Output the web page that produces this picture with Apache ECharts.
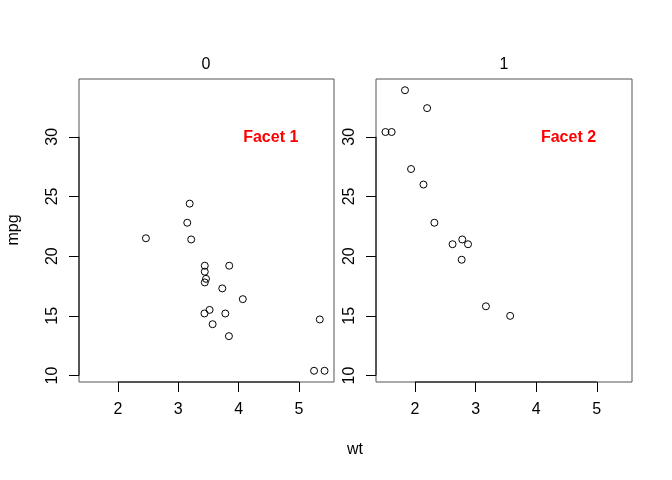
<!DOCTYPE html>
<html>
<head>
<meta charset="utf-8">
<script src="https://cdn.jsdelivr.net/npm/echarts@6/dist/echarts.min.js"></script>
<style>html,body{margin:0;padding:0;background:#fff}#c{width:672px;height:480px}</style>
</head>
<body>
<div id="c"></div>
<script>
// mtcars, am = 0 (automatic)
const wt0 = [3.215,3.440,3.460,3.570,3.190,3.150,3.440,3.440,4.070,3.730,3.780,5.250,5.424,5.345,2.465,3.520,3.435,3.840,3.845];
const mpg0 = [21.4,18.7,18.1,14.3,24.4,22.8,19.2,17.8,16.4,17.3,15.2,10.4,10.4,14.7,21.5,15.5,15.2,13.3,19.2];
// am = 1 (manual)
const wt1 = [2.620,2.875,2.320,2.200,1.615,1.835,1.935,2.140,1.513,3.170,2.770,3.570,2.780];
const mpg1 = [21.0,21.0,22.8,32.4,30.4,33.9,27.3,26.0,30.4,15.8,19.7,15.0,21.4];
const panelTitles = ['0','1'];
const facetLabels = ['Facet 1','Facet 2'];
const facetPos = [4.5, 30];
const xTicks = [2,3,4,5];
const yTicks = [10,15,20,25,30];
const xLim = [1.35656, 5.58044];
const yLim = [9.46, 34.84];

const FONT = '"Liberation Sans", Arial, Helvetica, sans-serif';
const chart = echarts.init(document.getElementById('c'), null, {renderer:'canvas'});
const grids = [
  {left:79, top:79, width:255, height:303, show:true, borderColor:'#555', borderWidth:1, backgroundColor:'transparent'},
  {left:376, top:79, width:256, height:303, show:true, borderColor:'#555', borderWidth:1, backgroundColor:'transparent'}
];
function xAx(i){return {type:'value', gridIndex:i, min:xLim[0], max:xLim[1],
  axisLine:{show:false}, splitLine:{show:false},
  axisTick:{show:true, length:10, customValues:xTicks, lineStyle:{color:'#000', width:1}},
  axisLabel:{show:true, customValues:xTicks, margin:20, color:'#000', fontSize:16, fontFamily:FONT}};}
function yAx(i){return {type:'value', gridIndex:i, min:yLim[0], max:yLim[1],
  axisLine:{show:false}, splitLine:{show:false},
  axisTick:{show:true, length:10, customValues:yTicks, lineStyle:{color:'#000', width:1}},
  axisLabel:{show:true, customValues:yTicks, rotate:90, margin:18, color:'#000', fontSize:16, fontFamily:FONT}};}
function pts(xs, ys){return xs.map((x,i)=>[x, ys[i]]);}
const series = [];
[[wt0,mpg0],[wt1,mpg1]].forEach((d,i)=>{
  series.push({type:'scatter', xAxisIndex:i, yAxisIndex:i, data:pts(d[0],d[1]), symbol:'circle', symbolSize:7,
    itemStyle:{color:'transparent', borderColor:'#000', borderWidth:1, opacity:1}, silent:true, z:3});
  series.push({type:'line', xAxisIndex:i, yAxisIndex:i, data:[[xTicks[0],yLim[0]],[xTicks[xTicks.length-1],yLim[0]]],
    symbol:'none', clip:false, silent:true, lineStyle:{color:'#000', width:1}, z:4});
  series.push({type:'line', xAxisIndex:i, yAxisIndex:i, data:[[xLim[0],yTicks[0]],[xLim[0],yTicks[yTicks.length-1]]],
    symbol:'none', clip:false, silent:true, lineStyle:{color:'#000', width:1}, z:4});
  series.push({type:'scatter', xAxisIndex:i, yAxisIndex:i, data:[facetPos], symbol:'circle', symbolSize:1, silent:true, z:5,
    itemStyle:{color:'rgba(0,0,0,0)', borderWidth:0, opacity:1},
    label:{show:true, position:'inside', offset:[2,1], formatter:facetLabels[i], color:'#FF0000', opacity:1, fontWeight:'bold', fontSize:16, fontFamily:FONT}});
});
chart.setOption({
  animation:false,
  backgroundColor:'#fff',
  grid:grids,
  xAxis:[xAx(0), xAx(1)],
  yAxis:[yAx(0), yAx(1)],
  series:series,
  graphic:[
    {type:'text', x:206, y:65, style:{text:panelTitles[0], font:'16px '+FONT, fill:'#000', align:'center', verticalAlign:'middle'}},
    {type:'text', x:504, y:65, style:{text:panelTitles[1], font:'16px '+FONT, fill:'#000', align:'center', verticalAlign:'middle'}},
    {type:'text', x:355, y:450, style:{text:'wt', font:'16px '+FONT, fill:'#000', align:'center', verticalAlign:'middle'}},
    {type:'text', x:14, y:230, rotation:Math.PI/2, style:{text:'mpg', font:'16px '+FONT, fill:'#000', align:'center', verticalAlign:'middle'}}
  ]
});
</script>
</body>
</html>
